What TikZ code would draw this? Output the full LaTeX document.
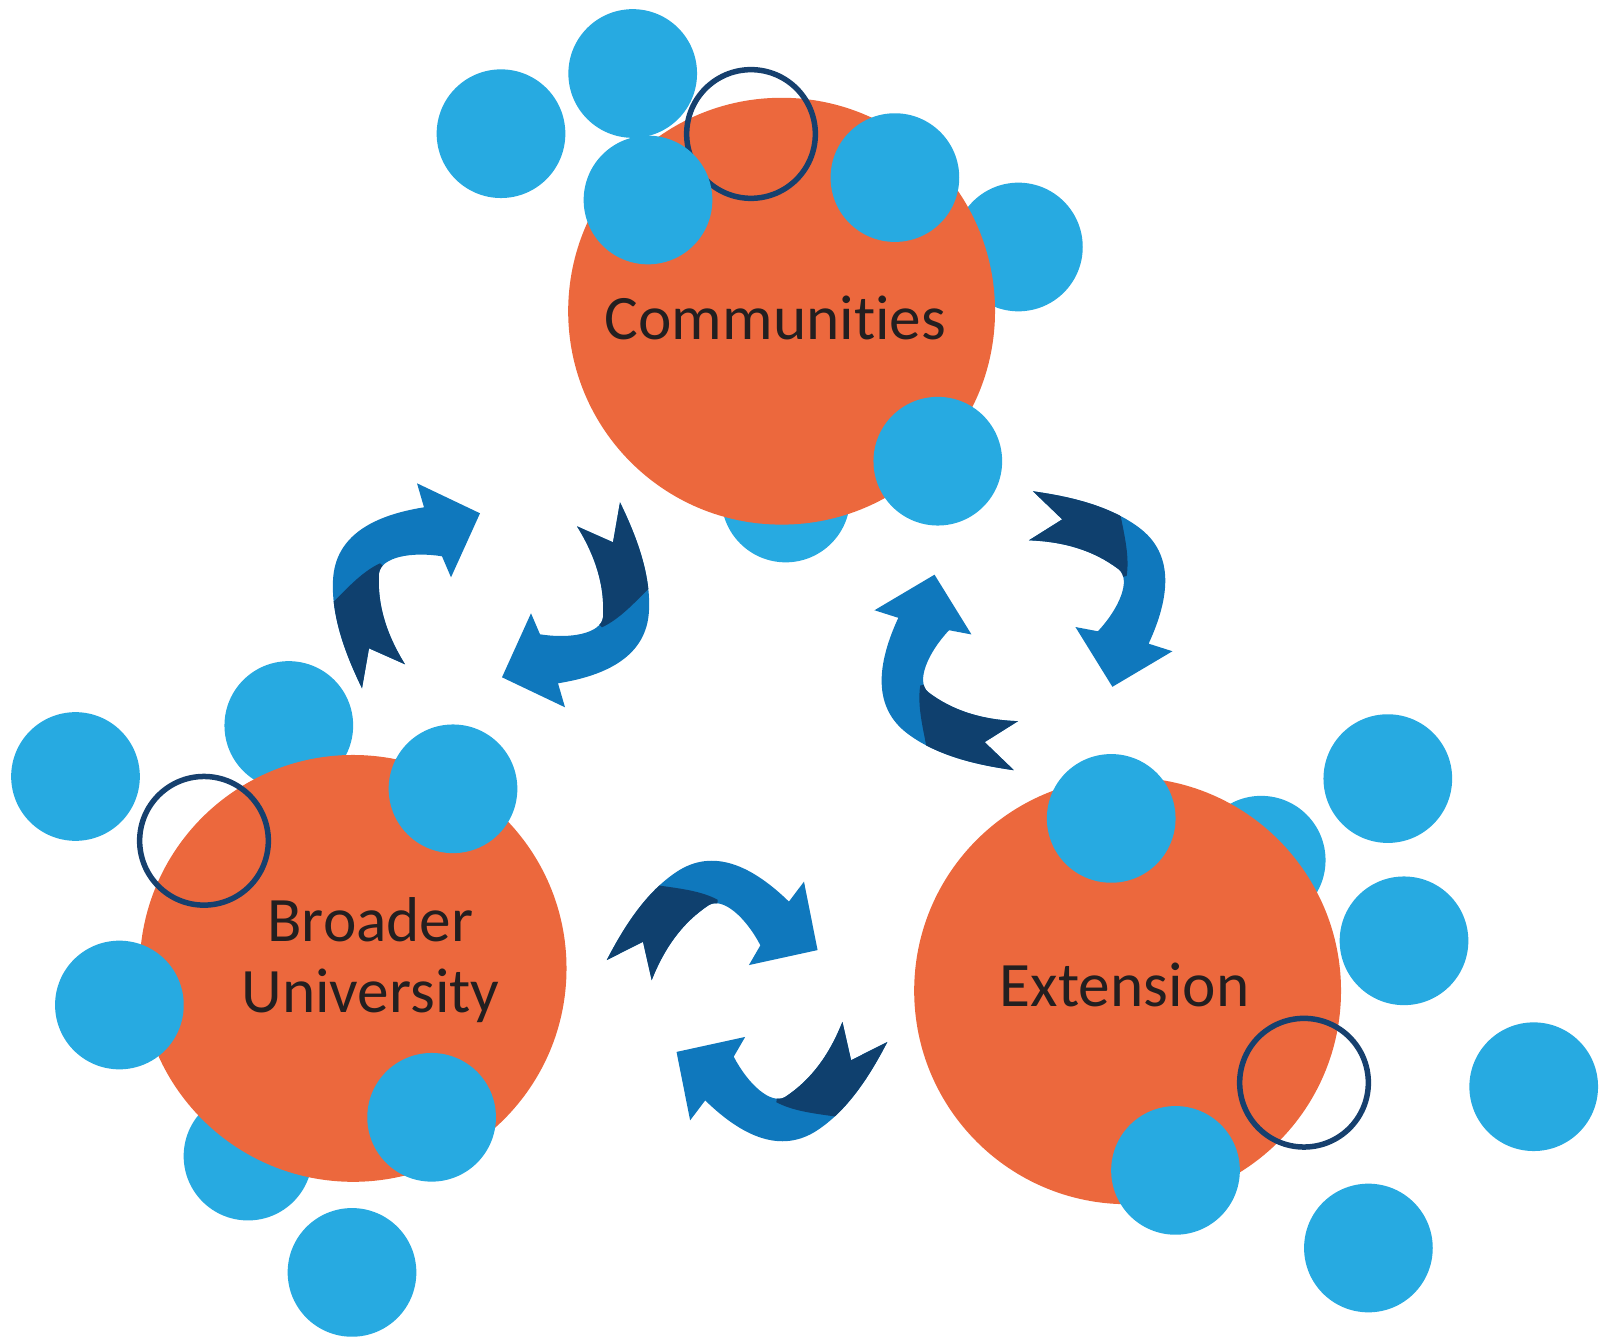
\documentclass[tikz,border=0pt]{standalone}
\usepackage{fontspec}
\setmainfont{Carlito}[Ligatures=NoCommon]
\definecolor{hubor}{HTML}{EC683D}
\definecolor{dotblue}{HTML}{27AAE1}
\definecolor{ringnavy}{HTML}{16406E}
\definecolor{arrowmid}{HTML}{0F78BD}
\definecolor{arrowdark}{HTML}{0F406E}
\definecolor{labelgray}{HTML}{231F20}
% one curved arrow, head up right, notched tail down left
\newcommand{\swirlshape}{(-11,-82) -- (-74,-112) -- (-67,-88)
  .. controls (-117,-80) and (-156,-60) .. (-158,-15)
  .. controls (-160,25) and (-142,66) .. (-129,93)
  -- (-122,53) -- (-86,69)
  .. controls (-104,40) and (-114,10) .. (-112,-22)
  .. controls (-110,-38) and (-80,-44) .. (-49,-39)
  -- (-40,-18) -- cycle}
\tikzset{pics/swirl/.style={code={
  \fill[arrowmid] \swirlshape;
  \begin{scope}
    \clip \swirlshape;
    \fill[arrowdark] (-200,40) -- (-157,6) .. controls (-142,-9) and (-128,-24) .. (-111,-32)
      -- (-100,-22) -- (-55,130) -- (-200,130) -- cycle;
  \end{scope}
}}}
\begin{document}
\begin{tikzpicture}[x=0.01cm, y=-0.01cm]
\tikzstyle{hub}=[circle, fill=hubor, minimum size=4.266cm, inner sep=0pt]
\tikzstyle{dot}=[circle, fill=dotblue, minimum size=1.286cm, inner sep=0pt]
\tikzstyle{ring}=[circle, draw=ringnavy, line width=0.055cm, minimum size=1.286cm, inner sep=0pt]
\tikzstyle{lbl}=[text=labelgray, font=\fontsize{18}{20}\selectfont, align=center]
\useasboundingbox (0,0) rectangle (1600,1337);

% dots behind the hubs
\node[dot](c5) at (1018.4, 247.0) {} ;
\node[dot](c6) at ( 785.7, 498.0) {} ;
\node[dot](u1) at ( 288.8, 725.5) {} ;
\node[dot](u5) at ( 248.0,1156.1) {} ;
\node[dot](e2) at (1261.2, 860.2) {} ;

% hubs
\node[hub](communities) at ( 781.6, 311.2) {} ;
\node[hub](university)  at ( 353.1, 968.4) {} ;
\node[hub](extension)   at (1127.6, 990.8) {} ;

% rings
\node[ring](cring) at ( 751.0, 134.0) {} ;
\node[ring](uring) at ( 204.0, 840.8) {} ;
\node[ring](ering) at (1304.0,1082.7) {} ;

% dots in front
\node[dot](c1) at ( 501.0, 133.7) {} ;
\node[dot](c2) at ( 632.7,  73.5) {} ;
\node[dot](c3) at ( 648.0, 200.0) {} ;
\node[dot](c4) at ( 894.9, 177.6) {} ;
\node[dot](c7) at ( 937.8, 461.2) {} ;
\node[dot](u2) at (  75.5, 776.5) {} ;
\node[dot](u3) at ( 453.0, 788.8) {} ;
\node[dot](u4) at ( 119.4,1005.0) {} ;
\node[dot](u6) at ( 431.6,1117.3) {} ;
\node[dot](u7) at ( 352.0,1272.4) {} ;
\node[dot](e1) at (1111.2, 818.4) {} ;
\node[dot](e3) at (1387.8, 778.6) {} ;
\node[dot](e4) at (1404.0, 940.8) {} ;
\node[dot](e5) at (1533.7,1086.7) {} ;
\node[dot](e6) at (1368.4,1248.0) {} ;
\node[dot](e7) at (1175.5,1170.4) {} ;

% labels
\node[lbl](commtext) at ( 775.5, 318.0) {Communities} ;
\node[lbl](univtext) at ( 370.5, 960.0) {Broader\\University} ;
\node[lbl](exttext)  at (1124.5, 984.7) {Extension} ;

% arrow pairs
\pic at (491.0, 595.3) {swirl} ;
\pic[rotate=180] at (491.0, 595.3) {swirl} ;
\pic[rotate=56.1] at (1008.7, 611.3) {swirl} ;
\pic[rotate=236.1] at (1038.2, 650.2) {swirl} ;
\pic[rotate=-53.3] at (758.4,1007.9) {swirl} ;
\pic[rotate=126.7] at (735.7, 994.1) {swirl} ;
\end{tikzpicture}
\end{document}
